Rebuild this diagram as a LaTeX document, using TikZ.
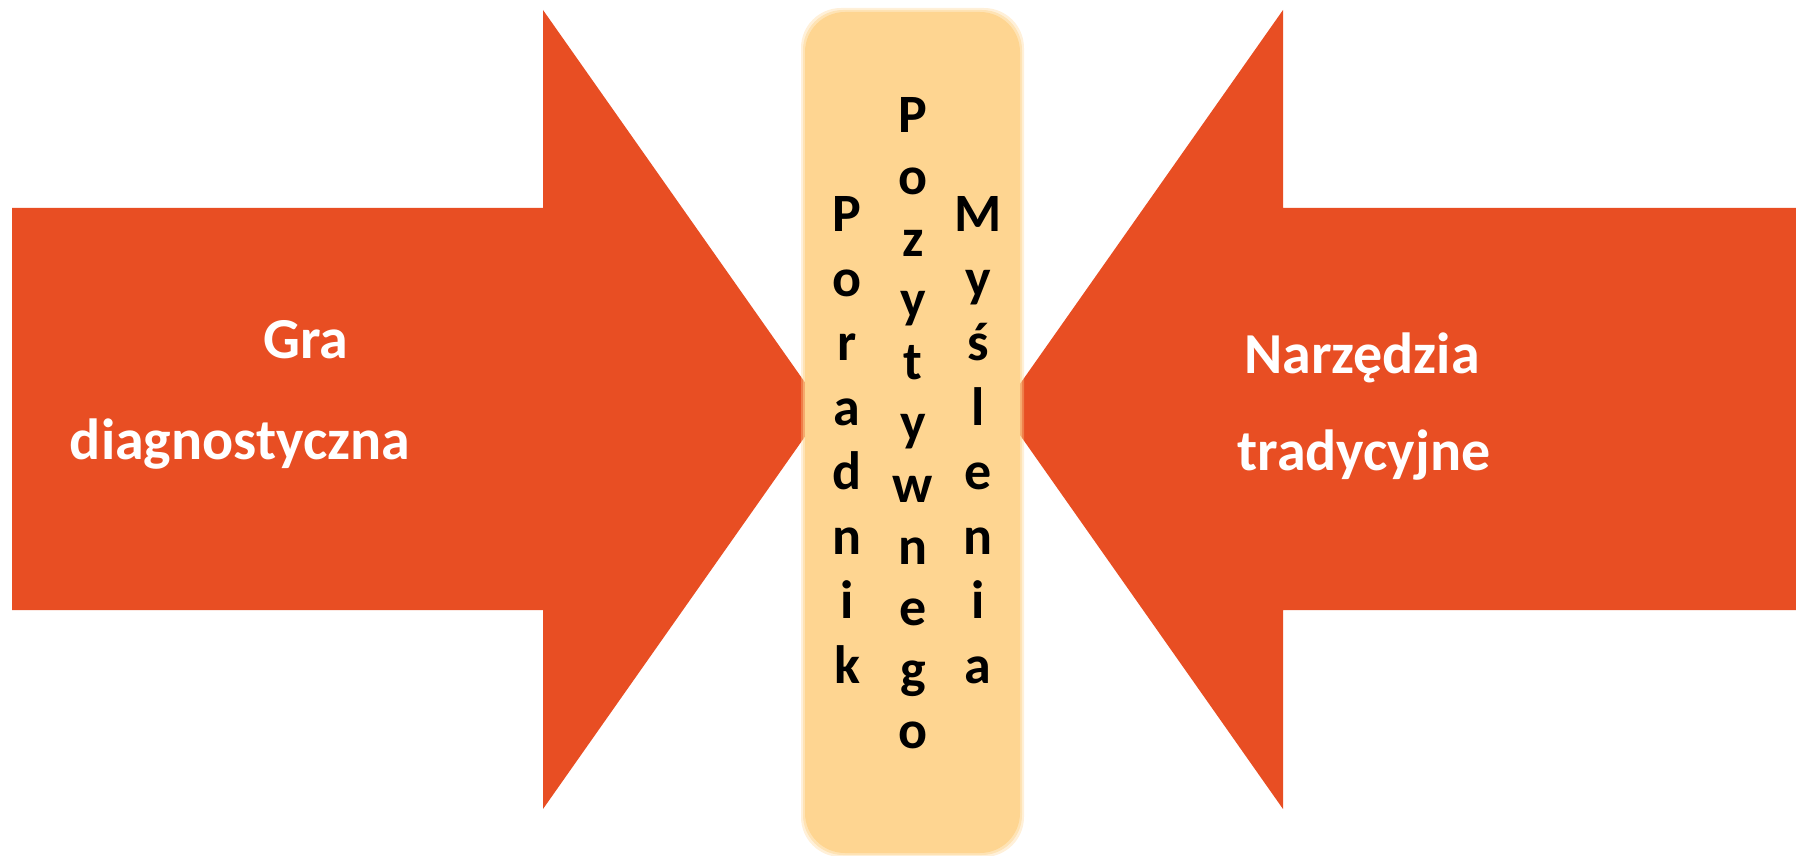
\documentclass[tikz,border=0pt]{standalone}
\usepackage{fontspec}
\setmainfont{Carlito}
\definecolor{arrowred}{HTML}{E84E23}
\definecolor{boxfill}{HTML}{FED591}
\begin{document}
\begin{tikzpicture}[x=0.5pt,y=-0.5pt,
  arrowshape/.style={fill=arrowred,draw=none},
  boxshape/.style={fill=boxfill,draw=none,rounded corners=20pt},
  arrowtext/.style={text=white,font=\fontsize{29}{44.5}\selectfont\bfseries,inner sep=0pt,align=center},
  boxtext/.style={text=black,font=\fontsize{27}{32.25}\selectfont\bfseries,inner sep=0pt,align=center},
  boxtextb/.style={boxtext,font=\fontsize{27}{30.8}\selectfont\bfseries}]
\useasboundingbox (0,0) rectangle (1796,856);
\clip (0,0) rectangle (1796,856);
% left arrow
\fill[arrowshape] (12,208) -- (543,208) -- (543,10) -- (824,409.5) -- (543,809) -- (543,610) -- (12,610) -- cycle;
% right arrow
\fill[arrowshape] (1814,208) -- (1283,208) -- (1283,10) -- (1002,409.5) -- (1283,809) -- (1283,610) -- (1814,610) -- cycle;
% central box with soft edge
\fill[boxshape,opacity=0.35] (801,8) rectangle (1024,857);
\fill[boxshape,opacity=0.5] (803,10) rectangle (1022,855);
\fill[boxshape] (805,12) rectangle (1020,853);
% arrow texts
\node[arrowtext,anchor=base] (gra) at (306,358) {Gra};
\node[arrowtext,anchor=base] (diag) at (240,459) {diagnostyczna};
\node[arrowtext,anchor=base] (narz) at (1362,373) {Narzędzia};
\node[arrowtext,anchor=base] (trad) at (1364,470) {tradycyjne};
% vertical texts in the box
\node[boxtext] (poradnik) at (847,440) {P\\o\\r\\a\\d\\n\\i\\k};
\node[boxtextb] (pozytywnego) at (913,423.5) {P\\o\\z\\y\\t\\y\\w\\n\\e\\g\\o};
\node[boxtext] (myslenia) at (978,440) {M\\y\\ś\\l\\e\\n\\i\\a};
\end{tikzpicture}
\end{document}
